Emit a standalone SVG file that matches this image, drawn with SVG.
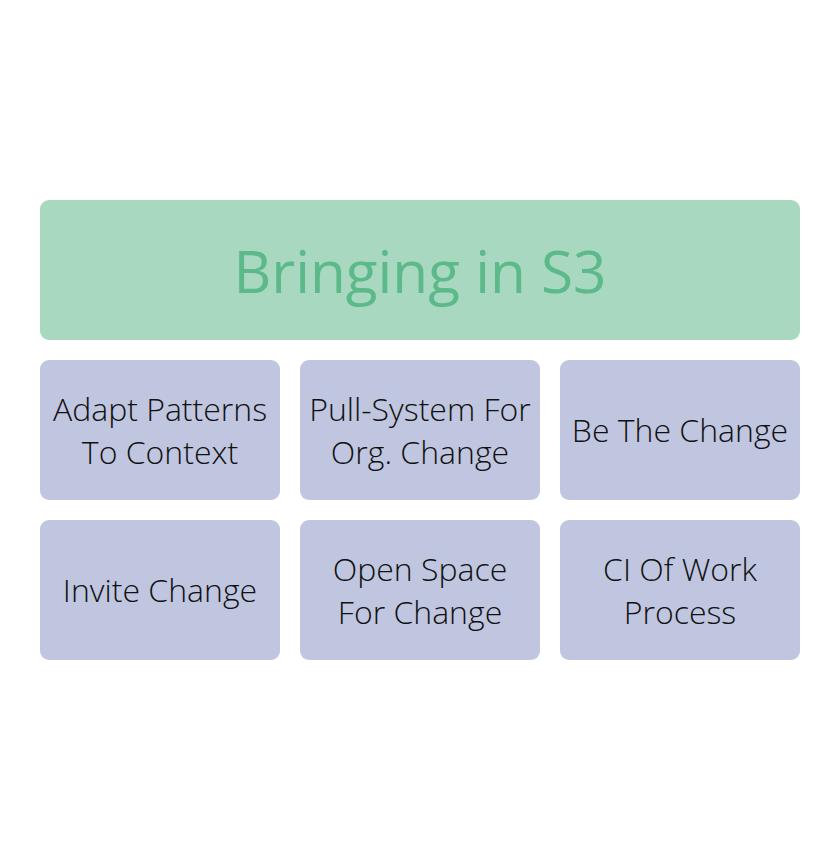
<svg xmlns="http://www.w3.org/2000/svg" width="840" height="860" viewBox="0 0 840 860">
<style>
.title{fill:#a8d8c0}
.box{fill:#c0c6e0}
.tt{font-family:"Open Sans",sans-serif;font-size:58.5px;fill:#5cb98a;text-anchor:middle}
.t{font-family:"Open Sans",sans-serif;font-size:32px;font-weight:300;fill:#111111;text-anchor:middle}
</style>
<rect width="840" height="860" fill="#ffffff"/>
<g id="connectors"></g>
<g id="title-node"><rect class="title" x="40" y="200" width="760" height="140" rx="9"/><text class="tt" x="420" y="293">Bringing in S3</text></g>
<g id="n1"><rect class="box" x="40" y="360" width="240" height="140" rx="9"/><text class="t" x="160" y="421">Adapt Patterns</text><text class="t" x="160" y="464">To Context</text></g>
<g id="n2"><rect class="box" x="300" y="360" width="240" height="140" rx="9"/><text class="t" x="420" y="421">Pull-System For</text><text class="t" x="420" y="464">Org. Change</text></g>
<g id="n3"><rect class="box" x="560" y="360" width="240" height="140" rx="9"/><text class="t" x="680" y="442">Be The Change</text></g>
<g id="n4"><rect class="box" x="40" y="520" width="240" height="140" rx="9"/><text class="t" x="160" y="602">Invite Change</text></g>
<g id="n5"><rect class="box" x="300" y="520" width="240" height="140" rx="9"/><text class="t" x="420" y="581">Open Space</text><text class="t" x="420" y="624">For Change</text></g>
<g id="n6"><rect class="box" x="560" y="520" width="240" height="140" rx="9"/><text class="t" x="680" y="581">CI Of Work</text><text class="t" x="680" y="624">Process</text></g>
</svg>
